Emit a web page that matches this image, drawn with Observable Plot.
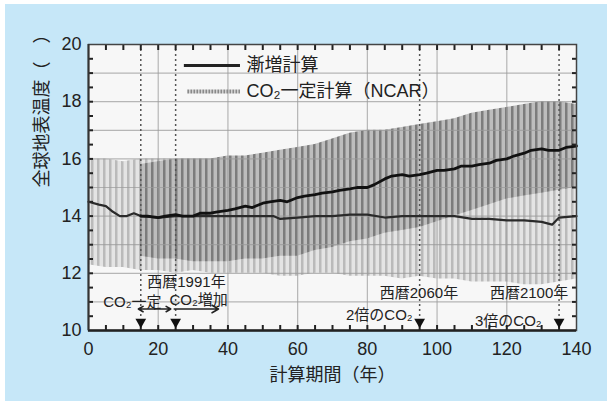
<!DOCTYPE html>
<html><head><meta charset="utf-8">
<script src="https://cdn.jsdelivr.net/npm/d3@7"></script>
<script src="https://cdn.jsdelivr.net/npm/@observablehq/plot@0.6"></script>
<style>
html,body{margin:0;padding:0;background:#fff;}
#wrap{position:relative;width:612px;height:404px;background:#fff;overflow:hidden;}
#blue{position:absolute;left:5px;top:4px;width:602px;height:397px;background:#c6e7f8;}
#chart{position:absolute;left:0;top:0;}
</style>
</head><body>
<div id="wrap"><div id="blue"></div><div id="chart"></div></div>
<script>
// ---- data ----
const bandYears = [0,5,10,15,20,25,30,35,40,45,50,55,60,65,70,75,80,85,90,95,100,105,110,115,120,125,130,135,140];
const ctrlHigh  = [16.0,16.0,15.9,16.0,16.0,16.0,16.0,16.0,16.0,16.0,16.0,16.0,16.0,16.0,16.0,16.0,16.0,16.0,16.0,16.0,16.0,16.0,16.0,16.0,16.0,16.0,16.0,16.0,16.0];
const ctrlLow   = [12.3,12.2,12.2,12.1,12.1,12.0,12.1,12.0,12.0,12.0,12.0,11.9,11.9,12.0,12.0,11.9,11.9,11.9,11.8,11.9,11.8,11.8,11.7,11.7,11.7,11.6,11.6,11.7,11.8];

const gradBandYears = [15,20,25,30,35,40,45,50,55,60,65,70,75,80,85,90,95,100,105,110,115,120,125,130,135,140];
const gradHigh = [15.8,15.9,16.0,16.0,16.0,16.1,16.1,16.2,16.3,16.4,16.5,16.7,16.9,17.0,17.0,17.1,17.2,17.3,17.4,17.6,17.7,17.8,17.9,18.0,18.0,17.9];
const gradLow  = [12.6,12.5,12.5,12.4,12.4,12.4,12.5,12.5,12.6,12.6,12.8,12.9,13.1,13.2,13.4,13.5,13.6,13.8,14.0,14.2,14.4,14.6,14.7,14.8,14.9,15.0];

const gradYears = [15,17,20,22,25,27,30,32,35,37,40,42,45,47,50,52,55,57,60,62,65,67,70,72,75,77,80,82,85,87,90,92,95,97,100,102,105,107,110,112,115,117,120,122,125,127,130,132,135,137,140];
const gradMean  = [14.0,14.0,13.95,14.0,14.05,14.0,14.0,14.1,14.1,14.15,14.2,14.25,14.35,14.3,14.45,14.5,14.55,14.5,14.65,14.7,14.75,14.8,14.85,14.9,14.95,15.0,15.0,15.1,15.3,15.4,15.45,15.4,15.45,15.5,15.6,15.6,15.65,15.75,15.75,15.8,15.85,15.95,16.0,16.1,16.2,16.3,16.35,16.3,16.3,16.4,16.45];

const ctrlYears = [0,3,5,7,9,11,13,15,20,25,30,35,40,45,50,53,55,60,65,70,75,80,85,90,95,100,105,110,115,120,125,130,133,135,140];
const ctrlMean  = [14.5,14.4,14.35,14.15,14.0,14.0,14.1,14.0,13.95,14.0,14.0,14.0,14.0,14.0,14.0,14.0,13.9,13.95,14.0,14.0,14.05,14.05,13.95,14.0,14.0,14.0,14.0,13.9,13.9,13.85,13.85,13.8,13.7,13.95,14.0];

const xTicks = [0,20,40,60,80,100,120,140];
const yTicks = [10,12,14,16,18,20];
const xMinor = [5,10,15,20,25,30,35,40,45,50,55,60,65,70,75,80,85,90,95,100,105,110,115,120,125,130,135];
const yMinor = [10.5,11,11.5,12,12.5,13,13.5,14,14.5,15,15.5,16,16.5,17,17.5,18,18.5,19,19.5];
const xGrid = [20,40,60,80,100,120];
const yGrid = [11,12,13,14,15,16,17,18,19];
const eventYears = [15,25,95,135];

const ctrlBand = bandYears.map((x,i)=>({x, lo: ctrlLow[i], hi: ctrlHigh[i]}));
const gradBand = gradBandYears.map((x,i)=>({x, lo: gradLow[i], hi: gradHigh[i]}));
const gradLine = gradYears.map((x,i)=>({x, y: gradMean[i]}));
const ctrlLine = ctrlYears.map((x,i)=>({x, y: ctrlMean[i]}));

const FONT = '"Liberation Sans", Arial, "Noto Sans CJK JP", sans-serif';
const ink = "#222";

const plot = Plot.plot({
  width: 612, height: 404,
  marginLeft: 88, marginRight: 36, marginTop: 44, marginBottom: 74,
  style: {fontFamily: FONT, fontSize: "18px", color: ink, background: "transparent"},
  x: {domain: [0,140], label: null},
  y: {domain: [10,20], label: null},
  marks: [
    Plot.frame({fill: "#f7f7f7", stroke: null}),
    Plot.areaY(ctrlBand, {x: "x", y1: "lo", y2: "hi", fill: "url(#stripeLight)"}),
    Plot.areaY(gradBand, {x: "x", y1: "lo", y2: "hi", fill: "url(#stripeDark)"}),
    Plot.ruleX(xGrid, {stroke: "#9a9a9a", strokeWidth: 1.2, strokeOpacity: 0.7}),
    Plot.ruleY(yGrid, {stroke: "#9a9a9a", strokeWidth: 1.2, strokeOpacity: 0.7}),
    Plot.ruleX(eventYears, {stroke: "#555", strokeWidth: 1.5, strokeDasharray: "2,3"}),
    Plot.line(ctrlLine, {x: "x", y: "y", stroke: "#2a2a2a", strokeWidth: 2.2}),
    Plot.line(gradLine, {x: "x", y: "y", stroke: "#111", strokeWidth: 2.8}),
    // inner ticks
    Plot.axisX({anchor: "bottom", ticks: xMinor, tickSize: -5, tickFormat: () => "", stroke: "#222", strokeWidth: 2}),
    Plot.axisX({anchor: "top", ticks: xMinor, tickSize: -5, tickFormat: () => "", stroke: "#222", strokeWidth: 2}),
    Plot.axisY({anchor: "left", ticks: yMinor, tickSize: -5, tickFormat: () => "", stroke: "#222", strokeWidth: 2}),
    Plot.axisY({anchor: "right", ticks: yMinor, tickSize: -5, tickFormat: () => "", stroke: "#222", strokeWidth: 2}),
    Plot.frame({stroke: "#444", strokeWidth: 1.5}),
    Plot.ruleY([10], {stroke: "#222", strokeWidth: 2.5}),
    Plot.ruleX([0], {stroke: "#333", strokeWidth: 2}),
    // event markers
    Plot.dot(eventYears, {x: d => d, y: 10.3, symbol: "triangle", r: 4, fill: "#111", stroke: null, rotate: 180}),
    // arrows
    Plot.arrow([0], {x1: 19, x2: 14.3, y1: 10.75, y2: 10.75, stroke: ink, strokeWidth: 1.6, headLength: 7}),
    Plot.arrow([0], {x1: 19, x2: 23.6, y1: 10.75, y2: 10.75, stroke: ink, strokeWidth: 1.6, headLength: 7}),
    Plot.arrow([0], {x1: 24.6, x2: 37.3, y1: 10.75, y2: 10.75, stroke: ink, strokeWidth: 1.6, headLength: 7}),
    // legend
    Plot.ruleY([19.27], {x1: 27.5, x2: 43.6, stroke: "#222", strokeWidth: 3}),
    Plot.ruleY([18.36], {x1: 28.5, x2: 43.6, stroke: "#8a8a8a", strokeWidth: 4, strokeDasharray: "2,1"}),
    Plot.text(["漸増計算"], {x: 45.3, y: 19.27, textAnchor: "start", fontSize: 18, fill: ink}),
    Plot.text(["CO₂一定計算（NCAR）"], {x: 45.3, y: 18.36, textAnchor: "start", fontSize: 18, fill: ink}),
    // annotations
    Plot.text(["西暦1991年"], {x: 28.1, y: 11.68, fontSize: 15, fill: ink}),
    Plot.text(["CO₂増加"], {x: 31.6, y: 11.05, fontSize: 15, fill: ink}),
    Plot.text(["CO₂一定"], {x: 12.6, y: 11.0, fontSize: 15, fill: ink}),
    Plot.text(["西暦2060年"], {x: 94.8, y: 11.3, fontSize: 15, fill: ink}),
    Plot.text(["2倍のCO₂"], {x: 93, y: 10.52, textAnchor: "end", fontSize: 15, fill: ink}),
    Plot.text(["西暦2100年"], {x: 126.4, y: 11.3, fontSize: 15, fill: ink}),
    Plot.text(["3倍のCO₂"], {x: 130, y: 10.31, textAnchor: "end", fontSize: 15, fill: ink}),
    // axes
    Plot.axisX({ticks: xTicks, tickSize: 0, tickPadding: 12, fontSize: 18, tickFormat: d => String(d)}),
    Plot.axisY({ticks: yTicks, tickSize: 0, tickPadding: 7, fontSize: 18, tickFormat: d => String(d)}),
    Plot.text(["計算期間（年）"], {frameAnchor: "bottom", dy: 50, fontSize: 18, fill: ink}),
    Plot.text(["全球地表温度（　）"], {frameAnchor: "left", dx: -46, rotate: -90, fontSize: 18, fill: ink})
  ]
});

const ns = "http://www.w3.org/2000/svg";
const defs = document.createElementNS(ns, "defs");
defs.innerHTML = `
<pattern id="stripeLight" width="6" height="8" patternUnits="userSpaceOnUse">
  <rect width="6" height="8" fill="#e4e4e4"/>
  <rect x="1" width="2.5" height="8" fill="#bababa"/>
</pattern>
<pattern id="stripeDark" width="6" height="8" patternUnits="userSpaceOnUse">
  <rect width="6" height="8" fill="#bdbdbd"/>
  <rect x="1" width="2.5" height="8" fill="#7c7c7c"/>
</pattern>`;
plot.insertBefore(defs, plot.firstChild);
document.getElementById("chart").appendChild(plot);
</script>
</body></html>
